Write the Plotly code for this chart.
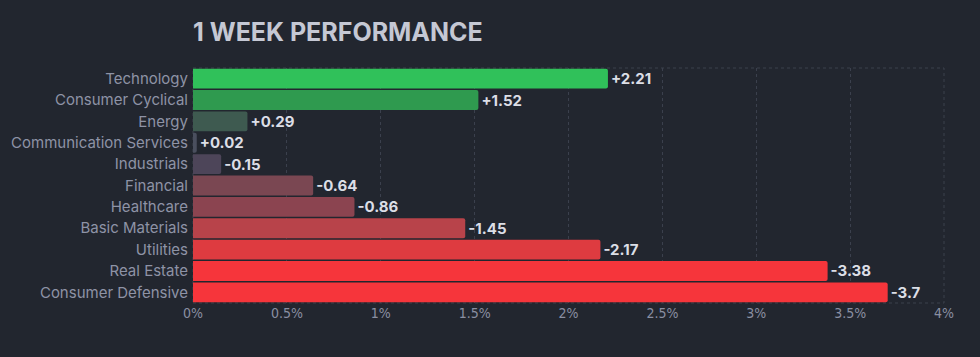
import plotly.graph_objects as go

sectors = ["Technology", "Consumer Cyclical", "Energy", "Communication Services",
           "Industrials", "Financial", "Healthcare", "Basic Materials", "Utilities",
           "Real Estate", "Consumer Defensive"]
changes = [2.21, 1.52, 0.29, 0.02, -0.15, -0.64, -0.86, -1.45, -2.17, -3.38, -3.7]
bar_colors = ["#30c15a", "#2f9a4f", "#3e5a50", "#4a4f5e", "#4d4559", "#7a4752",
              "#8b4450", "#b8434a", "#de3b40", "#f6353b", "#f6353b"]
x_ticks = [0, 0.5, 1, 1.5, 2, 2.5, 3, 3.5, 4]
x_tick_labels = [f"{t:g}%" for t in x_ticks]

labels = [f"{v:+g}" for v in changes]
magnitudes = [abs(v) for v in changes]

BG = "#22262f"
GRID = "#3b404d"

fig = go.Figure(go.Bar(
    y=sectors, x=magnitudes, orientation="h",
    marker=dict(color=bar_colors, line=dict(width=0), cornerradius=2),
    text=labels, textposition="outside", cliponaxis=False,
    textfont=dict(family="Inter, Roboto, sans-serif", size=15, color="#dcdee6", weight="bold"),
    hoverinfo="skip",
))

fig.update_layout(
    width=980, height=357,
    paper_bgcolor=BG, plot_bgcolor=BG,
    margin=dict(l=193, r=36, t=68, b=54),
    bargap=0.07,
    showlegend=False,
    title=dict(text="<b>1 WEEK PERFORMANCE</b>", x=193/980, xanchor="left",
               y=1 - 32/357, yanchor="middle",
               font=dict(family="Inter, Roboto, sans-serif", size=25, color="#c5c8d4")),
    xaxis=dict(range=[0, 4], tickmode="array", tickvals=x_ticks, ticktext=x_tick_labels,
               showgrid=True, gridcolor=GRID, griddash="3px,3px", gridwidth=1,
               zeroline=False, showline=False, ticks="",
               tickfont=dict(family="DejaVu Sans Condensed, Roboto, sans-serif",
                             size=14, color="#8a8fa2")),
    yaxis=dict(autorange="reversed", showgrid=False, zeroline=False, ticks="",
               ticklabelstandoff=4,
               tickfont=dict(family="Inter, Roboto, sans-serif", size=15, color="#8e93a6")),
    shapes=[dict(type="rect", xref="paper", yref="paper", x0=0, x1=1, y0=0, y1=1,
                 line=dict(color=GRID, width=1, dash="3px,3px"), layer="below")],
)

fig.write_html("out.html", config={"displayModeBar": False},
               post_script="document.body.style.margin='0';document.body.style.background='#22262f';")
